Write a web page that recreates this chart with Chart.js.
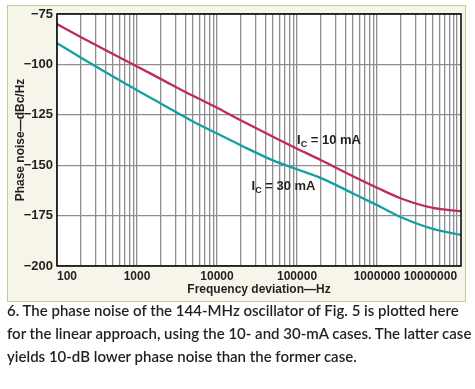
<!DOCTYPE html>
<html>
<head>
<meta charset="utf-8">
<script src="https://cdn.jsdelivr.net/npm/chart.js@4.4.0/dist/chart.umd.min.js"></script>
<style>
  html, body { margin: 0; padding: 0; background: #fff; }
  body { width: 475px; height: 389px; position: relative; overflow: hidden; }
  #box { position: absolute; left: 7px; top: 5px; width: 457px; height: 295px;
         background: #f7f4e9; border: 1px solid #b9cc9b; }
  #phaseChart { position: absolute; left: 0; top: 0; }
  #caption { position: absolute; left: 7px; top: 298.5px; margin: 0;
             font-family: Lato, sans-serif; font-weight: 600; font-size: 15px;
             color: #231f20; white-space: nowrap; }
  #caption div { height: 23.3px; line-height: 23.3px; }
</style>
</head>
<body>
<div id="box"><canvas id="phaseChart" width="457" height="295"></canvas></div>
<div id="caption">
  <div>6. The phase noise of the 144-MHz oscillator of Fig. 5 is plotted here</div>
  <div>for the linear approach, using the 10- and 30-mA cases. The latter case</div>
  <div>yields 10-dB lower phase noise than the former case.</div>
</div>
<script>
// frequency deviation (Hz) and phase noise (dBc/Hz)
const freqHz = [100, 200, 500, 1000, 2000, 5000, 1e4, 2e4, 5e4, 1e5, 2e5, 5e5, 1e6, 2e6, 5e6, 1.12e7];
const noise10mA = [-80, -86.5, -94.8, -101, -107.3, -115.6, -121.5, -127.8, -135.9, -141.8, -147.5, -155.5, -161.2, -166.5, -171.2, -172.8];
const noise30mA = [-89.5, -96.7, -106, -112.8, -119.5, -128.3, -134.3, -140.2, -147.6, -152, -156.4, -164, -169.8, -175.8, -181.6, -184.6];

// tick labels on the frequency axis
const decadeLabels = [100, 1000, 10000, 100000, 1000000, 10000000];
const yTicks = [-200, -175, -150, -125, -100, -75];

// curve labels (text, anchor frequency, anchor level)
const curveNames = ['10 mA', '30 mA'];
const nameFreq = [1e5, 2.7e4];
const nameLevel = [-139.6, -162.3];

// gridlines at 1..9 of each decade
const gridFreqs = [];
decadeLabels.forEach((d, i) => {
  if (i === decadeLabels.length - 1) { gridFreqs.push(d); return; }
  for (let m = 1; m <= 9; m++) gridFreqs.push(m * d);
});

const sans = "'Liberation Sans', Arial, sans-serif";
const ink = '#231f20';
const gridGray = '#8e8e8e';

// white plot area, black frame, curve labels
const framePlugin = {
  id: 'frame',
  beforeDraw(chart) {
    const { ctx, chartArea: a } = chart;
    ctx.save();
    ctx.fillStyle = '#ffffff';
    ctx.fillRect(a.left, a.top, a.width, a.height);
    ctx.restore();
  },
  afterDraw(chart) {
    const { ctx, chartArea: a } = chart;
    const xs = chart.scales.x, ys = chart.scales.y;
    ctx.save();
    ctx.strokeStyle = '#000';
    ctx.lineWidth = 1.5;
    ctx.strokeRect(a.left, a.top, a.width, a.height);

    ctx.fillStyle = ink;
    ctx.textBaseline = 'alphabetic';
    ctx.textAlign = 'left';
    curveNames.forEach((name, i) => {
      let x = xs.getPixelForValue(nameFreq[i]);
      const y = ys.getPixelForValue(nameLevel[i]);
      ctx.font = 'bold 13px ' + sans;
      ctx.fillText('I', x, y);
      x += ctx.measureText('I').width;
      ctx.font = 'bold 9px ' + sans;
      ctx.fillText('C', x, y + 3);
      x += ctx.measureText('C').width;
      ctx.font = 'bold 13px ' + sans;
      ctx.fillText(' = ' + name, x, y);
    });
    ctx.restore();
  }
};

const ctx = document.getElementById('phaseChart').getContext('2d');
const phaseChart = new Chart(ctx, {
  type: 'line',
  data: {
    datasets: [
      {
        label: 'IC = 10 mA',
        data: freqHz.map((f, i) => ({ x: f, y: noise10mA[i] })),
        borderColor: '#bd2a64',
        borderWidth: 2.3,
        pointRadius: 0,
        cubicInterpolationMode: 'monotone'
      },
      {
        label: 'IC = 30 mA',
        data: freqHz.map((f, i) => ({ x: f, y: noise30mA[i] })),
        borderColor: '#14a0a3',
        borderWidth: 2.3,
        pointRadius: 0,
        cubicInterpolationMode: 'monotone'
      }
    ]
  },
  options: {
    responsive: false,
    animation: false,
    layout: { padding: { top: 8, right: 4, left: 0, bottom: 0 } },
    plugins: { legend: { display: false }, tooltip: { enabled: false } },
    scales: {
      x: {
        type: 'logarithmic',
        min: 100,
        max: 1.12e7,
        afterBuildTicks: s => { s.ticks = gridFreqs.map(v => ({ value: v })); },
        afterFit: s => { s.height = 35; s.paddingLeft = 0; s.paddingRight = 0; },
        grid: { color: gridGray, lineWidth: 1.3, drawTicks: false },
        border: { display: false },
        ticks: {
          autoSkip: false, maxRotation: 0, minRotation: 0, align: 'inner', padding: 3,
          color: ink, font: { family: sans, size: 12, weight: 'bold' },
          callback: v => decadeLabels.includes(v) ? String(v) : ''
        },
        title: {
          display: true, text: 'Frequency deviation\u2014Hz', color: ink,
          font: { family: sans, size: 12, weight: 'bold' }, padding: { top: 0, bottom: 4 }
        }
      },
      y: {
        min: -200,
        max: -75,
        afterBuildTicks: s => { s.ticks = yTicks.map(v => ({ value: v })); },
        afterFit: s => { s.width = 49; s.paddingTop = 0; s.paddingBottom = 0; },
        grid: { color: gridGray, lineWidth: 1.3, drawTicks: false },
        border: { display: false },
        ticks: {
          padding: 4, color: ink, font: { family: sans, size: 13, weight: 'bold' },
          callback: v => (v < 0 ? '\u2212' : '') + Math.abs(v)
        },
        title: {
          display: true, text: 'Phase noise\u2014dBc/Hz', color: ink,
          font: { family: sans, size: 12, weight: 'bold' }, padding: { top: 5, bottom: 0 }
        }
      }
    }
  },
  plugins: [framePlugin]
});
</script>
</body>
</html>
